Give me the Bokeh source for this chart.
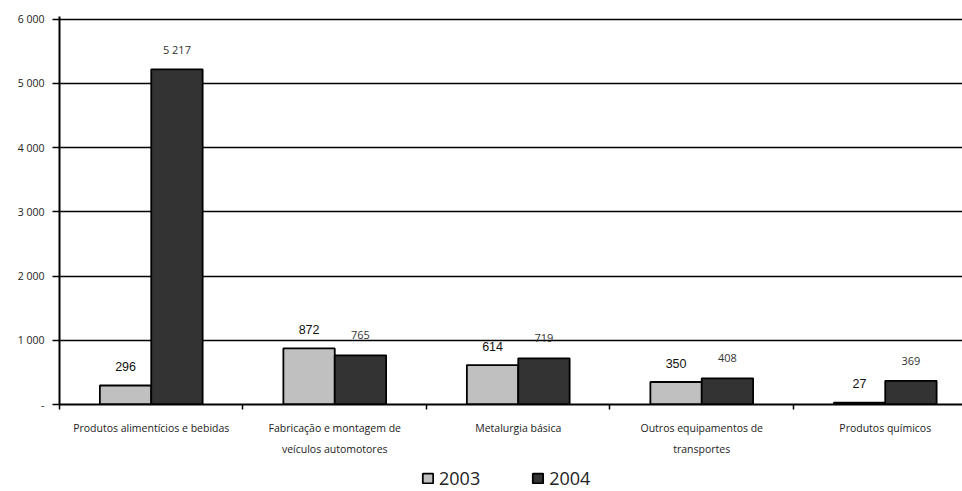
from bokeh.plotting import figure
from bokeh.layouts import column
from bokeh.models import (ColumnDataSource, Range1d, FixedTicker, Legend, LegendItem)
from bokeh.core.properties import value
from bokeh.embed import file_html
from bokeh.resources import INLINE

# Industry sectors and yearly values
categories = [
    "Produtos alimentícios e bebidas",
    "Fabricação e montagem de\nveículos automotores",
    "Metalurgia básica",
    "Outros equipamentos de\ntransportes",
    "Produtos químicos",
]
years = ["2003", "2004"]
values_2003 = [296, 872, 614, 350, 27]
values_2004 = [5217, 765, 719, 408, 369]
y_ticks = [0, 1000, 2000, 3000, 4000, 5000, 6000]
y_tick_labels = ["-", "1 000", "2 000", "3 000", "4 000", "5 000", "6 000"]

colors = {"2003": "#c0c0c0", "2004": "#333333"}


def fmt(v):
    return f"{v:,}".replace(",", " ")


n = len(categories)
centers = [i + 0.5 for i in range(n)]
bar_w = 0.28

src03 = ColumnDataSource(dict(
    x=[c - bar_w / 2 for c in centers], top=values_2003,
    label=[fmt(v) for v in values_2003]))
src04 = ColumnDataSource(dict(
    x=[c + bar_w / 2 for c in centers], top=values_2004,
    label=[fmt(v) for v in values_2004]))

p = figure(width=962, height=466, output_backend="svg", toolbar_location=None,
           x_range=Range1d(0, 4.921), y_range=Range1d(0, 6039),
           min_border_left=59, min_border_right=0, min_border_top=16,
           min_border_bottom=62)
p.outline_line_color = None
p.background_fill_color = "white"
p.border_fill_color = "white"

p.vbar(x="x", top="top", width=bar_w, source=src03,
       fill_color=colors["2003"], line_color="black", line_width=1.8)
p.vbar(x="x", top="top", width=bar_w, source=src04,
       fill_color=colors["2004"], line_color="black", line_width=1.8)

p.text(x="x", y="top", text="label", source=src03, y_offset=-19,
       text_align="center", text_baseline="middle",
       text_font=value("Liberation Sans"), text_font_size="12.5px",
       text_color="#111111")
p.text(x="x", y="top", text="label", source=src04, y_offset=-20,
       text_align="center", text_baseline="middle",
       text_font=value("Open Sans"), text_font_size="11px",
       text_color="#333333")

# y axis
yax = p.yaxis[0]
yax.ticker = FixedTicker(ticks=y_ticks, minor_ticks=[])
yax.major_label_overrides = {t: l for t, l in zip(y_ticks, y_tick_labels)}
yax.axis_line_width = 2
yax.axis_line_color = "black"
yax.major_tick_out = 7
yax.major_tick_in = 0
yax.major_tick_line_width = 1.5
yax.major_label_standoff = 8
yax.major_label_text_font = "Open Sans"
yax.major_label_text_font_size = "10.5px"
yax.major_label_text_color = "#222222"

# x axis: ticks at category boundaries, labels at category centres
xax = p.xaxis[0]
xax.ticker = FixedTicker(ticks=centers, minor_ticks=list(range(n + 1)))
xax.major_label_overrides = {c: lab for c, lab in zip(centers, categories)}
xax.major_tick_line_color = None
xax.minor_tick_out = 5
xax.minor_tick_in = 0
xax.minor_tick_line_width = 1.5
xax.minor_tick_line_color = "black"
xax.axis_line_width = 2
xax.axis_line_color = "black"
xax.major_label_standoff = 10
xax.major_label_text_font = "Open Sans"
xax.major_label_text_font_size = "10.5px"
xax.major_label_text_color = "#222222"
xax.major_label_text_line_height = 1.5

p.xgrid.visible = False
p.ygrid.ticker = FixedTicker(ticks=y_ticks[1:])
p.ygrid.grid_line_color = "black"
p.ygrid.grid_line_width = 1.6

# legend strip under the chart
lg = figure(width=962, height=25, output_backend="svg", toolbar_location=None,
            x_range=Range1d(0, 1), y_range=Range1d(0, 1),
            x_axis_location=None, y_axis_location=None, min_border=0)
lg.grid.visible = False
lg.outline_line_color = None
items = []
for yr in years:
    # swatch renderer kept outside the visible range; only its legend entry shows
    r = lg.quad(left=[-3], right=[-2], bottom=[-3], top=[-2],
                fill_color=colors[yr], line_color="black", line_width=1.8)
    items.append(LegendItem(label=yr, renderers=[r]))
legend = Legend(items=items, orientation="horizontal", location=(362, 1),
                glyph_width=13, glyph_height=12, label_standoff=5,
                spacing=51, padding=0, margin=0,
                border_line_color=None, background_fill_alpha=0,
                label_text_font="Open Sans", label_text_font_size="18px",
                label_text_color="#222222")
lg.add_layout(legend)

layout = column(p, lg, spacing=0)
open("out.html", "w").write(file_html(layout, INLINE))
